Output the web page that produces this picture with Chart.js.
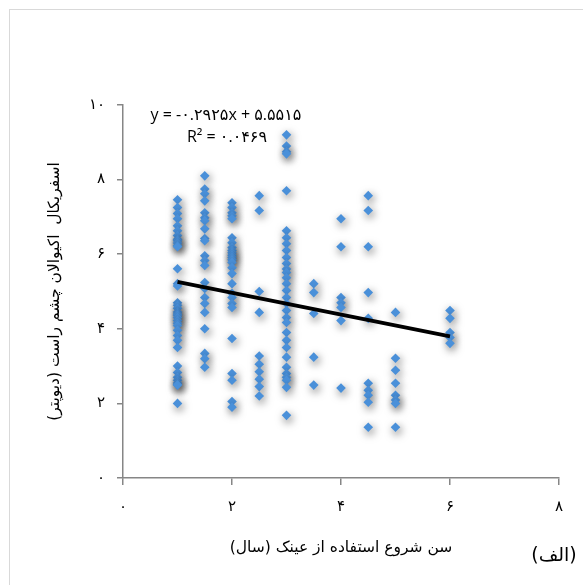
<!doctype html>
<html lang="fa">
<head>
<meta charset="utf-8">
<title>Scatter - spherical equivalent vs age</title>
<script src="https://cdn.jsdelivr.net/npm/chart.js"></script>
<style>
  html, body { margin: 0; padding: 0; overflow: hidden; background: #fff; }
  #frame { position: absolute; left: 9px; top: 9px; width: 700px; height: 700px;
           border-left: 1.5px solid #d9d9d9; border-top: 1.5px solid #d9d9d9; }
  #wrap { position: absolute; left: 0; top: 0; width: 583px; height: 585px; }
</style>
</head>
<body>
<div id="frame"></div>
<div id="wrap"><canvas id="myChart" dir="rtl"></canvas></div>
<script>
// age groups (x) and the readings in each column (y)
var ages = [1, 1.5, 2, 2.5, 3, 3.5, 4, 4.5, 5, 6];
var sphAt1   = [7.46, 7.25, 7.09, 6.95, 6.76, 6.63, 6.5, 6.4, 6.36, 6.3, 6.23, 6.2, 5.61, 5.21, 5.15,
                4.7, 4.63, 4.55, 4.45, 4.4, 4.36, 4.3, 4.22, 4.15, 4.09, 3.96, 3.82, 3.69, 3.5,
                3.0, 2.83, 2.7, 2.62, 2.55, 2.5, 2.49, 2.0];
var sphAt1_5 = [8.1, 7.75, 7.62, 7.43, 7.11, 6.98, 6.9, 6.68, 6.42, 6.36, 5.96, 5.83, 5.7, 5.24, 5.08,
                4.84, 4.68, 4.44, 4.0, 3.34, 3.2, 2.97];
var sphAt2   = [7.38, 7.25, 7.11, 7.03, 6.95, 6.44, 6.31, 6.18, 6.1, 6.04, 5.97, 5.91, 5.85, 5.78,
                5.64, 5.48, 5.21, 4.95, 4.84, 4.68, 4.57, 3.74, 2.8, 2.62, 2.05, 1.9];
var sphAt2_5 = [7.57, 7.17, 5.0, 4.44, 3.27, 3.05, 2.85, 2.65, 2.45, 2.2];
var sphAt3   = [9.2, 8.9, 8.75, 8.69, 7.7, 6.63, 6.44, 6.28, 6.1, 5.91, 5.75, 5.6, 5.51, 5.37, 5.21,
                5.03, 4.84, 4.68, 4.49, 4.3, 4.17, 3.9, 3.69, 3.5, 3.24, 2.97, 2.8, 2.7, 2.62, 2.43, 1.68];
var sphAt3_5 = [5.21, 4.97, 4.41, 3.24, 2.49];
var sphAt4   = [6.95, 6.2, 4.84, 4.7, 4.57, 4.22, 2.41];
var sphAt4_5 = [7.57, 7.17, 6.2, 4.97, 4.28, 2.54, 2.35, 2.22, 2.03, 1.36];
var sphAt5   = [4.44, 3.21, 2.89, 2.54, 2.22, 2.09, 2.0, 1.36];
var sphAt6   = [4.49, 4.28, 3.9, 3.77, 3.61];
var sphByAge = [sphAt1, sphAt1_5, sphAt2, sphAt2_5, sphAt3, sphAt3_5, sphAt4, sphAt4_5, sphAt5, sphAt6];

// linear trend from the chart
var slope = -0.2925;
var intercept = 5.5515;
var trendX = [1, 6];
var eqText = 'y = -۰.۲۹۲۵x + ۵.۵۵۱۵';
var r2Text = 'R² = ۰.۰۴۶۹';

var xTicks = ['۰', '۲', '۴', '۶', '۸'];
var yTicks = ['۰', '۲', '۴', '۶', '۸', '۱۰'];
var xTitle = 'سن شروع استفاده از عینک (سال)';
var yTitle = 'اسفریکال  اکیوالان چشم راست (دیوپتر)';
var panelLabel = '(الف)';

var points = [];
ages.forEach(function (a, i) {
    sphByAge[i].forEach(function (v) { points.push({x: a, y: v}); });
});
var trend = trendX.map(function (x) { return {x: x, y: intercept + slope * x}; });

var axisGray = '#868686';
var persian = "'DejaVu Sans', sans-serif";

// soft drop shadow under the markers
var shadowPlugin = {
    id: 'markerShadow',
    beforeDatasetDraw: function (chart, args) {
        if (args.index !== 1) return;
        var ctx = chart.ctx;
        ctx.save();
        ctx.shadowColor = 'rgba(0,0,0,0.6)';
        ctx.shadowBlur = 8;
        ctx.shadowOffsetX = 1.5;
        ctx.shadowOffsetY = 3;
    },
    afterDatasetDraw: function (chart, args) {
        if (args.index !== 1) return;
        chart.ctx.restore();
    }
};

// trend equation + panel label
var textPlugin = {
    id: 'extraText',
    afterDraw: function (chart) {
        var ctx = chart.ctx, a = chart.chartArea;
        ctx.save();
        ctx.direction = 'ltr';
        ctx.fillStyle = '#000';
        ctx.textAlign = 'center';
        ctx.textBaseline = 'middle';
        ctx.font = "16px 'Open Sans', 'DejaVu Sans', sans-serif";
        ctx.fillText(eqText, a.left + 103, a.top + 10);
        ctx.fillText(r2Text, a.left + 104, a.top + 32);
        ctx.direction = 'rtl';
        ctx.font = "19px " + persian;
        ctx.fillText(panelLabel, 554, 556);
        ctx.restore();
    }
};

new Chart('myChart', {
    type: 'scatter',
    data: {
        datasets: [{
            type: 'line',
            data: trend,
            borderColor: '#000',
            borderWidth: 4,
            pointRadius: 0,
            fill: false,
            order: 0
        }, {
            data: points,
            pointStyle: 'rectRot',
            pointRadius: 4.8,
            pointHoverRadius: 4.8,
            backgroundColor: '#4a90d9',
            borderWidth: 0,
            order: 1
        }]
    },
    options: {
        responsive: true,
        maintainAspectRatio: false,
        animation: false,
        events: [],
        layout: { padding: { left: 0, top: 105, right: 24, bottom: 0 } },
        plugins: { legend: { display: false }, tooltip: { enabled: false } },
        scales: {
            x: {
                type: 'linear',
                min: 0, max: 8,
                afterFit: function (s) { s.height = 107; },
                afterBuildTicks: function (s) { s.ticks = xTicks.map(function (t, i) { return {value: i * 2}; }); },
                ticks: {
                    callback: function (v, i) { return xTicks[i]; },
                    color: '#000',
                    font: { family: persian, size: 15 },
                    padding: 13,
                    maxRotation: 0
                },
                grid: { drawOnChartArea: false, drawTicks: true, tickLength: 7, color: axisGray, lineWidth: 1.5 },
                border: { display: true, color: axisGray, width: 1.5 },
                title: {
                    display: true, text: xTitle, color: '#000',
                    font: { family: persian, size: 15.5 },
                    padding: { top: 0, bottom: 28 }
                }
            },
            y: {
                type: 'linear',
                min: 0, max: 10,
                afterFit: function (s) { s.width = 123; },
                afterBuildTicks: function (s) { s.ticks = yTicks.map(function (t, i) { return {value: i * 2}; }); },
                ticks: {
                    callback: function (v, i) { return yTicks[i]; },
                    color: '#000',
                    font: { family: persian, size: 15 },
                    padding: 12
                },
                grid: { drawOnChartArea: false, drawTicks: true, tickLength: 6, color: axisGray, lineWidth: 1.5 },
                border: { display: true, color: axisGray, width: 1.5 },
                title: {
                    display: true, text: yTitle, color: '#000',
                    font: { family: persian, size: 15.5 },
                    padding: { top: 46, bottom: 0 }
                }
            }
        }
    },
    plugins: [shadowPlugin, textPlugin]
});
</script>
</body>
</html>
